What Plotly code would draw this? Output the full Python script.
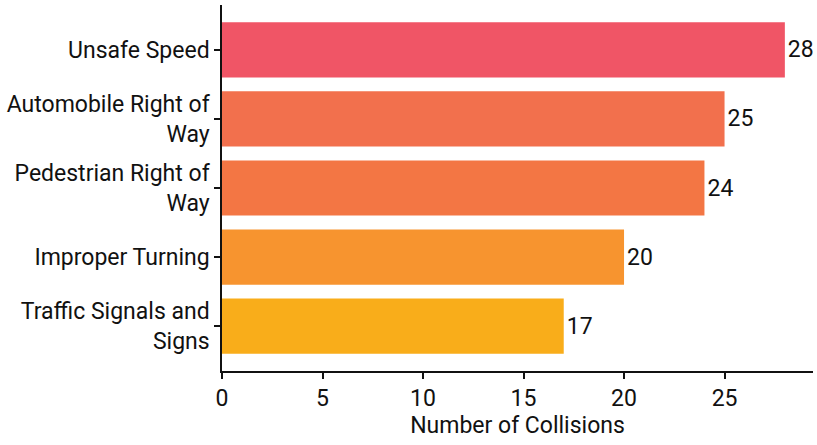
import plotly.graph_objects as go

categories = ["Traffic Signals and<br>Signs", "Improper Turning", "Pedestrian Right of<br>Way",
              "Automobile Right of<br>Way", "Unsafe Speed"]
values = [17, 20, 24, 25, 28]
colors = ["#F9AD1A", "#F7942F", "#F37644", "#F2704D", "#F05566"]

FS = 23

fig = go.Figure(go.Bar(
    x=values, y=categories, orientation="h",
    marker=dict(color=colors, line=dict(width=0)),
    text=[str(v) for v in values], textposition="outside",
    textfont=dict(color="#111111", size=FS), cliponaxis=False,
    constraintext="none",
))

fig.update_layout(
    width=817, height=445,
    margin=dict(l=222, r=4, t=5, b=74, autoexpand=False),
    paper_bgcolor="white", plot_bgcolor="white",
    font=dict(family="Roboto", size=FS, color="#111111"),
    bargap=0.2, showlegend=False,
    xaxis=dict(range=[0, 29.4], tickvals=[0, 5, 10, 15, 20, 25], automargin=False,
               tickfont=dict(size=FS),
               showgrid=False, zeroline=False, showline=True, linecolor="#111111", linewidth=1.5,
               ticks="outside", ticklen=6, tickwidth=1.5, tickcolor="#111111",
               title=dict(text="Number of Collisions", standoff=4, font=dict(size=FS))),
    yaxis=dict(range=[-0.65, 4.65], showgrid=False, zeroline=False, showline=True, automargin=False,
               tickfont=dict(size=FS),
               linecolor="#111111", linewidth=1.5, ticks="outside", ticklen=6, tickwidth=1.5,
               tickcolor="#111111"),
)

fig.write_html("out.html", config={"displayModeBar": False},
               post_script="document.body.style.margin='0';document.body.style.overflow='hidden';")
